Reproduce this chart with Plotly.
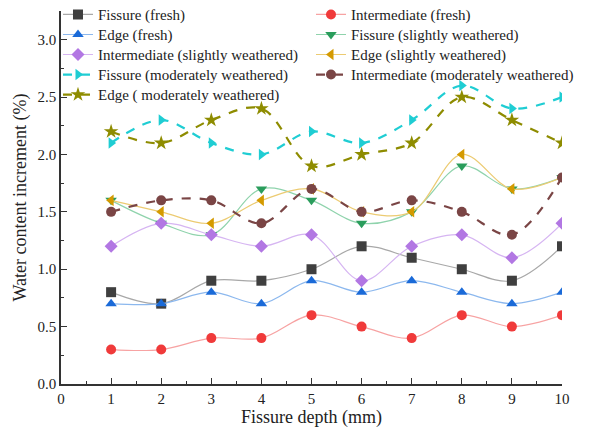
import plotly.graph_objects as go

depth = [1, 2, 3, 4, 5, 6, 7, 8, 9, 10]

fissure_fresh = [0.8, 0.7, 0.9, 0.9, 1.0, 1.2, 1.1, 1.0, 0.9, 1.2]
intermediate_fresh = [0.3, 0.3, 0.4, 0.4, 0.6, 0.5, 0.4, 0.6, 0.5, 0.6]
edge_fresh = [0.7, 0.7, 0.8, 0.7, 0.9, 0.8, 0.9, 0.8, 0.7, 0.8]
fissure_slight = [1.6, 1.4, 1.3, 1.7, 1.6, 1.4, 1.5, 1.9, 1.7, 1.8]
intermediate_slight = [1.2, 1.4, 1.3, 1.2, 1.3, 0.9, 1.2, 1.3, 1.1, 1.4]
edge_slight = [1.6, 1.5, 1.4, 1.6, 1.7, 1.5, 1.5, 2.0, 1.7, 1.8]
fissure_moderate = [2.1, 2.3, 2.1, 2.0, 2.2, 2.1, 2.3, 2.6, 2.4, 2.5]
intermediate_moderate = [1.5, 1.6, 1.6, 1.4, 1.7, 1.5, 1.6, 1.5, 1.3, 1.8]
edge_moderate = [2.2, 2.1, 2.3, 2.4, 1.9, 2.0, 2.1, 2.5, 2.3, 2.1]

x_ticks = [0, 1, 2, 3, 4, 5, 6, 7, 8, 9, 10]
y_ticks = [0.0, 0.5, 1.0, 1.5, 2.0, 2.5, 3.0]

# (name, values, marker colour, line colour, symbol, dash, line width, legend column)
series = [
    ("Fissure (fresh)", fissure_fresh, "#3f3f3f", "#a8a8a8", "square", "solid", 1.2, "legend"),
    ("Intermediate (fresh)", intermediate_fresh, "#f03a3a", "#f7a3a3", "circle", "solid", 1.2, "legend2"),
    ("Edge (fresh)", edge_fresh, "#1a6ad8", "#8cb8ee", "triangle-up", "solid", 1.2, "legend"),
    ("Fissure (slightly weathered)", fissure_slight, "#2a9d5c", "#8fd3ac", "triangle-down", "solid", 1.2, "legend2"),
    ("Intermediate (slightly weathered)", intermediate_slight, "#b277e3", "#d6b5f2", "diamond", "solid", 1.2, "legend"),
    ("Edge (slightly weathered)", edge_slight, "#d49a00", "#eccb72", "triangle-left", "solid", 1.2, "legend2"),
    ("Fissure (moderately weathered)", fissure_moderate, "#1fcdd3", "#1fcdd3", "triangle-right", "dash", 2.2, "legend"),
    ("Intermediate (moderately weathered)", intermediate_moderate, "#7a4545", "#7a4545", "circle", "dash", 2.2, "legend2"),
    ("Edge ( moderately weathered)", edge_moderate, "#8e8c00", "#8e8c00", "star", "dash", 2.2, "legend"),
]

fig = go.Figure()
for name, vals, mcol, lcol, sym, dash, lw, leg in series:
    fig.add_trace(go.Scatter(
        x=depth, y=vals, mode="lines+markers", legend=leg,
        # legend rows are spaced for a 13px font, label itself drawn at 15px
        name=f"<span style='font-size:15px'>{name}</span>",
        line=dict(shape="spline", smoothing=1.0, color=lcol, dash=dash, width=lw),
        marker=dict(symbol=sym, size=10 if sym != "star" else 11, color=mcol,
                    line=dict(width=0)),
    ))

font_family = "Liberation Serif, Times New Roman, serif"
axis_common = dict(
    showline=True, linecolor="#333333", linewidth=1.5,
    ticks="inside", ticklen=6, tickwidth=1.3, tickcolor="#333333",
    showgrid=False, zeroline=False,
    tickfont=dict(family=font_family, size=15, color="#222222"),
)

legend_common = dict(
    orientation="v", yanchor="top", xanchor="left",
    font=dict(family=font_family, size=13.1, color="#222222"),
    bgcolor="rgba(0,0,0,0)", itemwidth=30, tracegroupgap=0,
)

fig.update_layout(
    width=589, height=434,
    margin=dict(l=61, r=27, t=11, b=50, autoexpand=False),
    paper_bgcolor="white", plot_bgcolor="white",
    font=dict(family=font_family, color="#222222"),
    xaxis=dict(
        range=[0, 10], tickvals=x_ticks, ticktext=[str(v) for v in x_ticks],
        minor=dict(dtick=0.5, tick0=0, ticks="inside", ticklen=3, tickwidth=1.2, tickcolor="#333333"),
        title=dict(text="Fissure depth (mm)", font=dict(family=font_family, size=18), standoff=0),
        **axis_common,
    ),
    yaxis=dict(
        range=[0, 3.25], tickvals=y_ticks, ticktext=[f"{v:.1f}" for v in y_ticks],
        minor=dict(dtick=0.25, tick0=0, ticks="inside", ticklen=3, tickwidth=1.2, tickcolor="#333333"),
        title=dict(text="Water content increment (%)", font=dict(family=font_family, size=18), standoff=6),
        **axis_common,
    ),
    legend=dict(x=-0.006, y=1.031, **legend_common),
    legend2=dict(x=0.499, y=1.031, **legend_common),
    showlegend=True,
)

fig.write_html("out.html")
